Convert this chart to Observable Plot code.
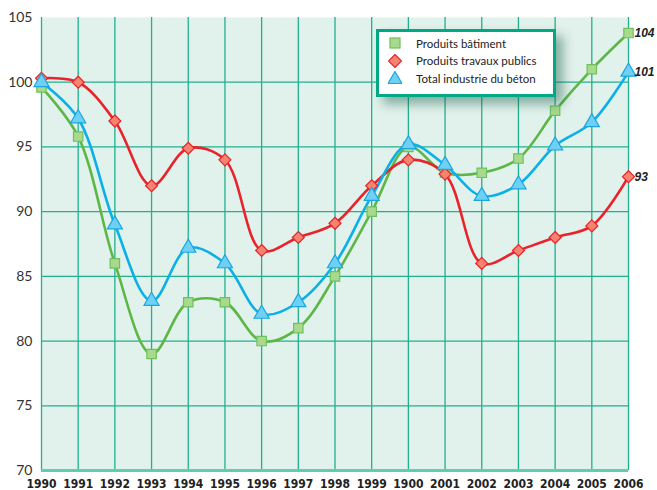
<!DOCTYPE html>
<html><head><meta charset="utf-8">
<script src="https://cdn.jsdelivr.net/npm/d3@7"></script>
<script src="https://cdn.jsdelivr.net/npm/@observablehq/plot@0.6"></script>
<style>
body{margin:0;background:#fff;}
#wrap{position:relative;width:657px;height:490px;}
#legend{position:absolute;left:376px;top:29px;width:174px;height:62px;border:3px solid #00a884;background:#fff;box-shadow:7px 7px 10px rgba(20,90,70,0.45);font-family:Lato, "Open Sans", sans-serif;font-size:11.5px;color:#222;}
.row{position:absolute;left:0;height:16px;display:flex;align-items:center;}
.row svg{margin-left:9px;margin-right:14px;}
</style>
</head><body>
<div id="wrap"></div>
<script>
const years = [1990,1991,1992,1993,1994,1995,1996,1997,1998,1999,2000,2001,2002,2003,2004,2005,2006];
const xLabels = ["1990","1991","1992","1993","1994","1995","1996","1997","1998","1999","1900","2001","2002","2003","2004","2005","2006"];
const batiment = [99.6,95.8,86,79,83,83,80,81,85,90,95,93,93,94.1,97.8,101,103.8];
const travaux  = [100.3,100,97,92,94.9,94,87,88,89.1,92,94,92.9,86,87,88,88.9,92.7];
const total    = [100,97.2,89,83.1,87.2,86,82.1,83,86,91.2,95.2,93.6,91.2,92.1,95.1,96.9,100.8];
const seriesNames = ["Produits bâtiment","Produits travaux publics","Total industrie du béton"];
const endLabels = ["104","93","101"];
const yTicks = [70,75,80,85,90,95,100,105];
const yGrid = [75,80,85,90,95,100];

const styles = [
  {line:"#5cb746", fill:"#a9d98d", stroke:"#6fc15c", symbol:"square", r:5.3},
  {line:"#e8232b", fill:"#f5836f", stroke:"#e8232b", symbol:"diamond2", r:5.4},
  {line:"#0bb0e8", fill:"#6fd0f6", stroke:"#1aa6e0", symbol:"triangle", r:5.6}
];
const allSeries = [batiment, travaux, total];
const rows = allSeries.map(vals => years.map((y,i)=>({year:y, value:vals[i]})));

const marks = [
  Plot.frame({fill:"#e1f1eb", stroke:null}),
  Plot.ruleX(years, {stroke:"#22b08f", strokeWidth:1.3}),
  Plot.ruleY(yGrid, {stroke:"#22b08f", strokeWidth:1.3}),
  Plot.ruleY([70], {stroke:"#5ccfb0", strokeWidth:3}),
  Plot.axisY({ticks:yTicks, tickSize:0, tickPadding:9, fontSize:14, fontFamily:"Lato, 'Open Sans', sans-serif", fill:"#333", label:null}),
  Plot.axisX({ticks:years, tickSize:0, tickPadding:9, fontSize:12, fontWeight:"bold", fontFamily:"'Liberation Sans Narrow','DejaVu Sans Condensed',sans-serif", fill:"#222", label:null, tickFormat:d=>xLabels[years.indexOf(d)]})
];
rows.forEach((data,k)=>{
  marks.push(Plot.line(data, {x:"year", y:"value", stroke:styles[k].line, strokeWidth:2.6, curve:"catmull-rom"}));
});
rows.forEach((data,k)=>{
  const s = styles[k];
  marks.push(Plot.dot(data, {x:"year", y:"value", symbol:()=>s.symbol, r:s.r, fill:s.fill, stroke:s.stroke, strokeWidth:1.2}));
  const last = data[data.length-1];
  marks.push(Plot.text([last], {x:"year", y:"value", text:()=>endLabels[k], dx:6, textAnchor:"start", fontSize:12, fontWeight:"bold", fontStyle:"italic", fontFamily:"'Liberation Sans', Arial, sans-serif", fill:"#222"}));
});

const chart = Plot.plot({
  width:657, height:490,
  marginLeft:41, marginRight:29, marginTop:17, marginBottom:20,
  x:{type:"linear", domain:[1990,2006]},
  y:{domain:[70,105]},
  symbol:{type:"identity"},
  style:{background:"#fff"},
  marks
});
const wrap = document.getElementById("wrap");
wrap.appendChild(chart);

const legend = document.createElement("div");
legend.id = "legend";
const symSvg = [
  `<svg width="14" height="14" viewBox="-7 -7 14 14"><rect x="-5" y="-5" width="10" height="10" fill="${styles[0].fill}" stroke="${styles[0].stroke}" stroke-width="1.2"/></svg>`,
  `<svg width="14" height="14" viewBox="-7 -7 14 14"><path d="M0,-6.5L6.5,0L0,6.5L-6.5,0Z" fill="${styles[1].fill}" stroke="${styles[1].stroke}" stroke-width="1.2"/></svg>`,
  `<svg width="14" height="14" viewBox="-7 -7 14 14"><path d="M0,-6.5L7,5.5L-7,5.5Z" fill="${styles[2].fill}" stroke="${styles[2].stroke}" stroke-width="1.2"/></svg>`
];
seriesNames.forEach((n,i)=>{
  const r = document.createElement("div");
  r.className = "row";
  r.style.top = (3 + i*17.5) + "px";
  r.innerHTML = symSvg[i] + `<span>${n}</span>`;
  legend.appendChild(r);
});
wrap.appendChild(legend);
</script>
</body></html>
